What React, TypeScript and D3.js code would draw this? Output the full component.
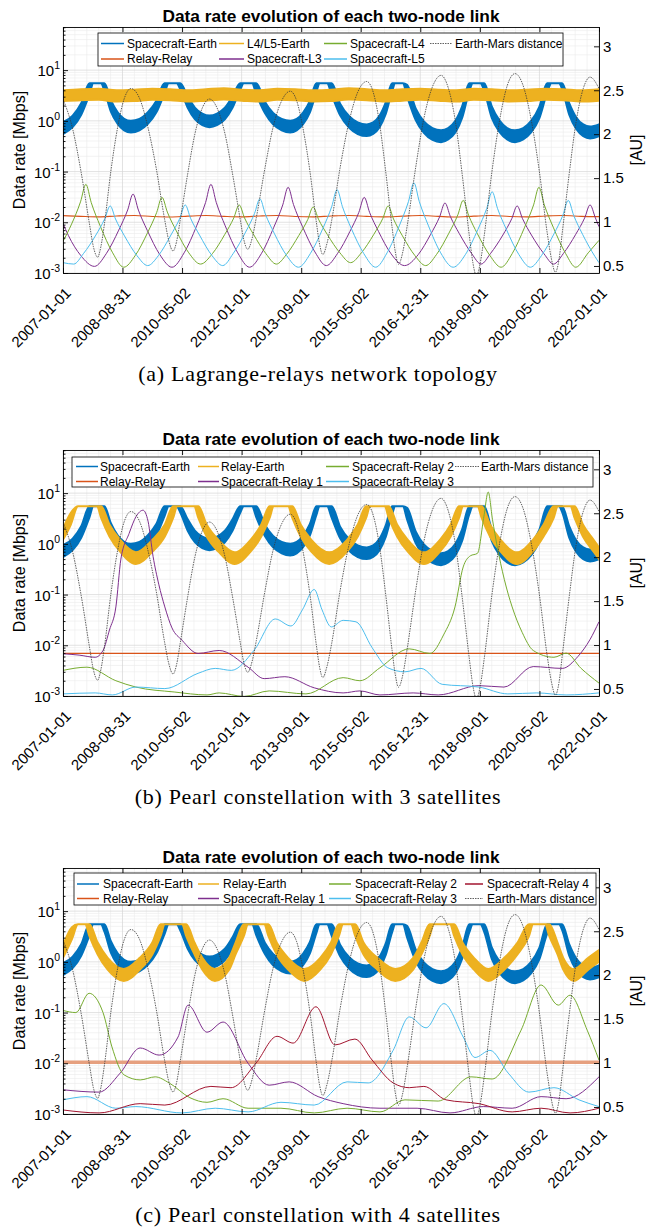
import React, { useEffect, useRef } from "react";
import * as d3 from "d3";

type P2 = [number, number];
type P3 = [number, number, number];

const tickDates = ["2007-01-01", "2008-08-31", "2010-05-02", "2012-01-01", "2013-09-01", "2015-05-02", "2016-12-31", "2018-09-01", "2020-05-02", "2022-01-01"];
const auTicks = [0.5, 1, 1.5, 2, 2.5, 3];
const rateTicks = [1e-3, 1e-2, 1e-1, 1, 10];

// Earth-Mars distance [year, AU] (same in all panels)
const earthMars: P2[] = [
  [2007.0, 2.4], [2007.27, 2.06], [2007.51, 1.56], [2007.74, 0.98], [2007.85, 0.72], [2007.97, 0.6],
  [2008.06, 0.72], [2008.16, 0.98], [2008.34, 1.58], [2008.53, 2.08], [2008.71, 2.4], [2008.9, 2.52],
  [2009.14, 2.41], [2009.37, 2.09], [2009.61, 1.61], [2009.84, 1.04], [2009.96, 0.79], [2010.08, 0.67],
  [2010.18, 0.78], [2010.28, 1.02], [2010.49, 1.55], [2010.69, 2.0], [2010.9, 2.3], [2011.1, 2.4],
  [2011.31, 2.3], [2011.53, 2.01], [2011.74, 1.56], [2011.96, 1.03], [2012.06, 0.8], [2012.17, 0.69],
  [2012.29, 0.81], [2012.41, 1.05], [2012.65, 1.61], [2012.88, 2.08], [2013.12, 2.38], [2013.36, 2.49],
  [2013.54, 2.38], [2013.72, 2.06], [2013.91, 1.58], [2014.09, 1.0], [2014.18, 0.75], [2014.27, 0.63],
  [2014.39, 0.76], [2014.52, 1.02], [2014.76, 1.63], [2015.01, 2.15], [2015.25, 2.48], [2015.5, 2.6],
  [2015.68, 2.48], [2015.86, 2.12], [2016.03, 1.58], [2016.21, 0.94], [2016.3, 0.66], [2016.39, 0.52],
  [2016.51, 0.66], [2016.63, 0.95], [2016.87, 1.62], [2017.1, 2.18], [2017.34, 2.54], [2017.58, 2.67],
  [2017.78, 2.53], [2017.98, 2.15], [2018.17, 1.55], [2018.37, 0.85], [2018.47, 0.54], [2018.57, 0.39],
  [2018.68, 0.54], [2018.79, 0.85], [2019.0, 1.56], [2019.22, 2.16], [2019.43, 2.55], [2019.65, 2.69],
  [2019.88, 2.55], [2020.1, 2.17], [2020.33, 1.58], [2020.55, 0.88], [2020.67, 0.58], [2020.78, 0.43],
  [2020.88, 0.57], [2020.97, 0.87], [2021.17, 1.56], [2021.36, 2.14], [2021.56, 2.52], [2021.75, 2.65],
  [2022.0, 2.52],
];

// Spacecraft-Earth band [year, low, high] Mbps (same in all panels)
const scEarth: P3[] = [
  [2007.0, 0.55, 0.94], [2007.27, 0.75, 1.27], [2007.51, 1.31, 2.22], [2007.74, 3.32, 5.5], [2007.85, 5.5, 5.5], [2007.97, 5.5, 5.5],
  [2008.06, 5.5, 5.5], [2008.16, 3.92, 5.5], [2008.34, 1.51, 2.55], [2008.53, 0.87, 1.47], [2008.71, 0.65, 1.1], [2008.9, 0.59, 1.0],
  [2009.14, 0.65, 1.09], [2009.37, 0.86, 1.46], [2009.61, 1.45, 2.45], [2009.84, 3.48, 5.5], [2009.96, 5.5, 5.5], [2010.08, 5.5, 5.5],
  [2010.18, 5.5, 5.5], [2010.28, 4.17, 5.5], [2010.49, 1.81, 3.05], [2010.69, 1.08, 1.83], [2010.9, 0.82, 1.39], [2011.1, 0.75, 1.27],
  [2011.31, 0.82, 1.39], [2011.53, 1.07, 1.81], [2011.74, 1.78, 3.01], [2011.96, 4.09, 5.5], [2012.06, 5.5, 5.5], [2012.17, 5.5, 5.5],
  [2012.29, 5.5, 5.5], [2012.41, 3.33, 5.5], [2012.65, 1.42, 2.39], [2012.88, 0.85, 1.43], [2013.12, 0.65, 1.09], [2013.36, 0.59, 1.0],
  [2013.54, 0.65, 1.09], [2013.72, 0.86, 1.46], [2013.91, 1.47, 2.48], [2014.09, 3.67, 5.5], [2014.18, 5.5, 5.5], [2014.27, 5.5, 5.5],
  [2014.39, 5.5, 5.5], [2014.52, 3.25, 5.5], [2014.76, 1.27, 2.15], [2015.01, 0.73, 1.23], [2015.25, 0.55, 0.93], [2015.5, 0.5, 0.85],
  [2015.68, 0.55, 0.93], [2015.86, 0.75, 1.27], [2016.03, 1.35, 2.29], [2016.21, 3.82, 5.5], [2016.3, 5.5, 5.5], [2016.39, 5.5, 5.5],
  [2016.51, 5.5, 5.5], [2016.63, 3.03, 5.12], [2016.87, 1.04, 1.76], [2017.1, 0.58, 0.97], [2017.34, 0.42, 0.72], [2017.58, 0.38, 0.65],
  [2017.78, 0.43, 0.72], [2017.98, 0.59, 1.0], [2018.17, 1.14, 1.93], [2018.37, 3.79, 5.5], [2018.47, 5.5, 5.5], [2018.57, 5.5, 5.5],
  [2018.68, 5.5, 5.5], [2018.79, 3.85, 5.5], [2019.0, 1.14, 1.93], [2019.22, 0.6, 1.01], [2019.43, 0.43, 0.72], [2019.65, 0.38, 0.65],
  [2019.88, 0.43, 0.72], [2020.1, 0.59, 1.0], [2020.33, 1.12, 1.89], [2020.55, 3.6, 5.5], [2020.67, 5.5, 5.5], [2020.78, 5.5, 5.5],
  [2020.88, 5.5, 5.5], [2020.97, 4.2, 5.5], [2021.17, 1.31, 2.21], [2021.36, 0.7, 1.18], [2021.56, 0.5, 0.85], [2021.75, 0.45, 0.77],
  [2022.0, 0.5, 0.85],
];

// (a) Lagrange relays
const l45Earth: P3[] = [
  [2007.0, 2.45, 4.0], [2007.5, 2.55, 4.2], [2008.0, 2.6, 4.3], [2008.5, 2.4, 4.0], [2009.0, 2.45, 4.1], [2009.5, 2.6, 4.3],
  [2010.0, 2.55, 4.2], [2010.5, 2.4, 4.0], [2011.0, 2.5, 4.2], [2011.5, 2.62, 4.4], [2012.0, 2.5, 4.1], [2012.5, 2.4, 4.0],
  [2013.0, 2.6, 4.3], [2013.5, 2.55, 4.2], [2014.0, 2.4, 4.0], [2014.5, 2.45, 4.1], [2015.0, 2.62, 4.4], [2015.5, 2.55, 4.2],
  [2016.0, 2.4, 4.0], [2016.5, 2.5, 4.2], [2017.0, 2.6, 4.3], [2017.5, 2.5, 4.1], [2018.0, 2.4, 4.0], [2018.5, 2.6, 4.3],
  [2019.0, 2.55, 4.2], [2019.5, 2.4, 4.0], [2020.0, 2.45, 4.1], [2020.5, 2.6, 4.3], [2021.0, 2.55, 4.2], [2021.5, 2.4, 4.0],
  [2022.0, 2.5, 4.2],
];
const relayRelayA: P2[] = [
  [2007.0, 0.0135], [2007.5, 0.0131], [2008.0, 0.0128], [2008.5, 0.0133], [2009.0, 0.0136], [2009.5, 0.013], [2010.0, 0.0127],
  [2010.5, 0.0132], [2011.0, 0.0136], [2011.5, 0.0131], [2012.0, 0.0128], [2012.5, 0.0133], [2013.0, 0.0136], [2013.5, 0.013],
  [2014.0, 0.0128], [2014.5, 0.0133], [2015.0, 0.0136], [2015.5, 0.0131], [2016.0, 0.0128], [2016.5, 0.0132], [2017.0, 0.0136],
  [2017.5, 0.0131], [2018.0, 0.0127], [2018.5, 0.0132], [2019.0, 0.0136], [2019.5, 0.013], [2020.0, 0.0128], [2020.5, 0.0133],
  [2021.0, 0.0136], [2021.5, 0.0131], [2022.0, 0.0129],
];
const scL3: P2[] = [
  [2007.0, 0.0095], [2007.15, 0.0055], [2007.5, 0.0022], [2007.88, 0.00135],
  [2008.21, 0.0024], [2008.56, 0.007], [2008.81, 0.0175], [2008.96, 0.036],
  [2009.11, 0.0174], [2009.36, 0.0069], [2009.71, 0.0023], [2010.05, 0.0013],
  [2010.39, 0.0025], [2010.74, 0.0085], [2010.99, 0.0245], [2011.14, 0.056],
  [2011.29, 0.0245], [2011.54, 0.0085], [2011.89, 0.0025], [2012.22, 0.0013],
  [2012.55, 0.0024], [2012.9, 0.008], [2013.15, 0.022], [2013.3, 0.049],
  [2013.45, 0.0224], [2013.7, 0.0083], [2014.05, 0.0026], [2014.37, 0.0014],
  [2014.68, 0.0024], [2015.03, 0.0066], [2015.28, 0.0157], [2015.43, 0.031],
  [2015.58, 0.0157], [2015.83, 0.0066], [2016.18, 0.0024], [2016.56, 0.0014],
  [2016.94, 0.0023], [2017.29, 0.0058], [2017.54, 0.0128], [2017.69, 0.024],
  [2017.84, 0.013], [2018.09, 0.006], [2018.44, 0.0024], [2018.7, 0.0015],
  [2018.96, 0.0024], [2019.31, 0.0056], [2019.56, 0.0118], [2019.71, 0.021],
  [2019.86, 0.0118], [2020.11, 0.0056], [2020.46, 0.0024], [2020.73, 0.0015],
  [2021.0, 0.0024], [2021.35, 0.0058], [2021.6, 0.0122], [2021.75, 0.022],
  [2021.9, 0.0122], [2022.0, 0.0082],
];
const scL4: P2[] = [
  [2007.0, 0.0042], [2007.24, 0.0092], [2007.49, 0.0253], [2007.64, 0.056],
  [2007.79, 0.0245], [2008.04, 0.0085], [2008.39, 0.0025], [2008.7, 0.0013],
  [2009.02, 0.0022], [2009.37, 0.0063], [2009.62, 0.0155], [2009.77, 0.031],
  [2009.92, 0.0159], [2010.17, 0.0068], [2010.52, 0.0025], [2010.85, 0.0015],
  [2011.18, 0.0024], [2011.53, 0.0058], [2011.78, 0.0122], [2011.93, 0.022],
  [2012.08, 0.0122], [2012.33, 0.0058], [2012.68, 0.0024], [2012.97, 0.0015],
  [2013.25, 0.0023], [2013.6, 0.0055], [2013.85, 0.0113], [2014.0, 0.02],
  [2014.15, 0.0115], [2014.4, 0.0057], [2014.75, 0.0025], [2015.05, 0.0016],
  [2015.35, 0.0025], [2015.7, 0.0058], [2015.95, 0.0119], [2016.1, 0.021],
  [2016.25, 0.0116], [2016.5, 0.0054], [2016.85, 0.0022], [2017.15, 0.0014],
  [2017.45, 0.0023], [2017.8, 0.0061], [2018.05, 0.014], [2018.2, 0.027],
  [2018.35, 0.0138], [2018.6, 0.0059], [2018.95, 0.0022], [2019.26, 0.0013],
  [2019.57, 0.0024], [2019.92, 0.008], [2020.17, 0.022], [2020.32, 0.049],
  [2020.47, 0.022], [2020.72, 0.008], [2021.07, 0.0024], [2021.35, 0.0013],
  [2021.7, 0.0025], [2022.0, 0.0044],
];
const scL5: P2[] = [
  [2007.0, 0.0016], [2007.3, 0.0015], [2007.57, 0.0024], [2007.92, 0.0056], [2008.17, 0.0118], [2008.32, 0.021],
  [2008.47, 0.0116], [2008.72, 0.0054], [2009.07, 0.0022], [2009.37, 0.0014],
  [2009.67, 0.0022], [2010.02, 0.0056], [2010.27, 0.012], [2010.42, 0.022],
  [2010.57, 0.012], [2010.82, 0.0056], [2011.17, 0.0022], [2011.47, 0.0014],
  [2011.76, 0.0024], [2012.11, 0.0064], [2012.36, 0.0149], [2012.51, 0.029],
  [2012.66, 0.0147], [2012.91, 0.0061], [2013.26, 0.0022], [2013.59, 0.0013],
  [2013.92, 0.0024], [2014.27, 0.0075], [2014.52, 0.0203], [2014.67, 0.044],
  [2014.82, 0.0203], [2015.07, 0.0075], [2015.42, 0.0024], [2015.75, 0.0013],
  [2016.07, 0.0025], [2016.42, 0.0088], [2016.67, 0.0258], [2016.82, 0.06],
  [2016.97, 0.0258], [2017.22, 0.0088], [2017.57, 0.0025], [2017.92, 0.0013],
  [2018.26, 0.0023], [2018.61, 0.0072], [2018.86, 0.0188], [2019.01, 0.04],
  [2019.16, 0.0188], [2019.41, 0.0072], [2019.76, 0.0023], [2020.08, 0.0013],
  [2020.39, 0.0022], [2020.74, 0.0059], [2020.99, 0.0138], [2021.14, 0.027],
  [2021.29, 0.0138], [2021.54, 0.0058], [2021.89, 0.0021], [2022.0, 0.0016],
];

// (b) Pearl constellation, 3 satellites
const relayEarthB: P3[] = [
  [2007.0, 1.2, 2.0], [2007.22, 2.4, 4.1], [2007.42, 5.5, 5.5], [2007.95, 5.5, 5.5], [2008.07, 3.2, 5.5], [2008.3, 1.4, 2.4],
  [2008.6, 0.7, 1.2], [2009.04, 0.4, 0.68], [2009.5, 0.7, 1.2], [2009.85, 1.4, 2.4], [2010.08, 3.2, 5.5], [2010.2, 5.5, 5.5],
  [2010.67, 5.5, 5.5], [2010.79, 3.2, 5.5], [2011.02, 1.4, 2.4], [2011.35, 0.7, 1.2], [2011.8, 0.4, 0.68], [2012.25, 0.7, 1.2],
  [2012.55, 1.4, 2.4], [2012.78, 3.2, 5.5], [2012.9, 5.5, 5.5], [2013.3, 5.5, 5.5], [2013.42, 3.2, 5.5], [2013.65, 1.4, 2.4],
  [2013.95, 0.7, 1.2], [2014.45, 0.4, 0.68], [2014.95, 0.7, 1.2], [2015.25, 1.4, 2.4], [2015.48, 3.2, 5.5], [2015.6, 5.5, 5.5],
  [2016.0, 5.5, 5.5], [2016.12, 3.2, 5.5], [2016.35, 1.4, 2.4], [2016.65, 0.7, 1.2], [2017.1, 0.4, 0.68], [2017.55, 0.7, 1.2],
  [2017.85, 1.4, 2.4], [2018.08, 3.2, 5.5], [2018.2, 5.5, 5.5], [2018.6, 5.5, 5.5], [2018.72, 3.2, 5.5], [2018.95, 1.4, 2.4],
  [2019.25, 0.7, 1.2], [2019.7, 0.4, 0.68], [2020.15, 0.7, 1.2], [2020.45, 1.4, 2.4], [2020.73, 3.2, 5.5], [2020.85, 5.5, 5.5],
  [2021.2, 5.5, 5.5], [2021.32, 3.2, 5.5], [2021.55, 1.4, 2.4], [2021.85, 0.7, 1.2], [2022.0, 0.5, 0.85],
];
const relayRelayB: P2[] = [[2007.0, 0.0069], [2014.5, 0.0069], [2022.0, 0.0069]];
const scR1B: P2[] = [
  [2007.0, 0.0068], [2007.45, 0.0064], [2007.9, 0.0058], [2008.12, 0.0079], [2008.3, 0.02], [2008.48, 0.057], [2008.62, 0.5],
  [2008.85, 1.6], [2009.05, 3.5], [2009.24, 4.6], [2009.38, 2.8], [2009.52, 0.57], [2009.68, 0.16], [2009.85, 0.057],
  [2010.05, 0.022], [2010.33, 0.0126], [2010.78, 0.0069], [2011.37, 0.0079], [2012.18, 0.0037], [2012.63, 0.0022],
  [2013.21, 0.0024], [2014.03, 0.00145], [2014.84, 0.00115], [2015.31, 0.00126], [2015.87, 0.00105], [2016.8, 0.00115],
  [2017.5, 0.00105], [2018.64, 0.0016], [2019.34, 0.0015], [2020.16, 0.0038], [2020.97, 0.0035], [2021.41, 0.006],
  [2021.75, 0.013], [2022.0, 0.029],
];
const scR2B: P2[] = [
  [2007.0, 0.0032], [2007.67, 0.0037], [2008.48, 0.002], [2009.04, 0.0015], [2010.11, 0.0012], [2011.03, 0.00105],
  [2011.37, 0.00115], [2012.07, 0.00098], [2012.77, 0.00126], [2013.8, 0.0011], [2014.84, 0.0023], [2015.31, 0.002],
  [2015.87, 0.0036], [2016.69, 0.0085], [2017.27, 0.0069], [2017.65, 0.016], [2017.97, 0.057], [2018.2, 0.35],
  [2018.4, 0.58], [2018.6, 0.65], [2018.78, 3.5], [2018.9, 10.5], [2019.02, 3.0], [2019.15, 0.9], [2019.35, 0.2],
  [2019.57, 0.057], [2019.85, 0.018], [2020.16, 0.0079], [2020.74, 0.0058], [2021.08, 0.007], [2021.5, 0.0035],
  [2022.0, 0.0018],
];
const scR3B: P2[] = [
  [2007.0, 0.0011], [2007.9, 0.00115], [2008.38, 0.00105], [2009.04, 0.0015], [2009.85, 0.0014], [2010.78, 0.0028],
  [2011.26, 0.0035], [2011.71, 0.0032], [2012.35, 0.008], [2012.94, 0.033], [2013.38, 0.024], [2013.7, 0.05],
  [2014.03, 0.126], [2014.25, 0.05], [2014.51, 0.023], [2014.84, 0.031], [2015.2, 0.029], [2015.65, 0.009],
  [2016.09, 0.0036], [2016.57, 0.003], [2017.02, 0.0035], [2017.61, 0.0017], [2018.64, 0.0015], [2019.45, 0.0011],
  [2020.26, 0.00115], [2021.08, 0.00105], [2022.0, 0.00115],
];

// (c) Pearl constellation, 4 satellites
const relayEarthC: P3[] = [
  [2007.0, 1.2, 2.1], [2007.25, 2.8, 4.8], [2007.42, 5.5, 5.5], [2007.62, 5.5, 5.5], [2007.74, 3.2, 5.5], [2007.97, 1.4, 2.4],
  [2008.25, 0.7, 1.2], [2008.7, 0.42, 0.72], [2009.15, 0.7, 1.2], [2009.5, 1.4, 2.4], [2009.73, 3.2, 5.5], [2009.85, 5.5, 5.5],
  [2010.33, 5.5, 5.5], [2010.45, 3.2, 5.5], [2010.68, 1.4, 2.4], [2010.9, 0.7, 1.2], [2011.25, 0.42, 0.72], [2011.65, 0.7, 1.2],
  [2011.83, 1.4, 2.4], [2012.06, 3.2, 5.5], [2012.18, 5.5, 5.5], [2012.63, 5.5, 5.5], [2012.75, 3.2, 5.5], [2012.98, 1.4, 2.4],
  [2013.3, 0.7, 1.2], [2013.75, 0.42, 0.72], [2014.2, 0.7, 1.2], [2014.5, 1.4, 2.4], [2014.72, 3.2, 5.5], [2014.84, 5.5, 5.5],
  [2015.06, 5.5, 5.5], [2015.18, 3.2, 5.5], [2015.41, 1.4, 2.4], [2015.8, 0.7, 1.2], [2016.3, 0.42, 0.72], [2016.8, 0.7, 1.2],
  [2017.03, 1.4, 2.4], [2017.26, 3.2, 5.5], [2017.38, 5.5, 5.5], [2017.83, 5.5, 5.5], [2017.95, 3.2, 5.5], [2018.18, 1.4, 2.4],
  [2018.5, 0.7, 1.2], [2018.9, 0.42, 0.72], [2019.35, 0.7, 1.2], [2019.72, 1.4, 2.4], [2020.04, 3.2, 5.5], [2020.16, 5.5, 5.5],
  [2020.49, 5.5, 5.5], [2020.61, 3.2, 5.5], [2020.84, 1.4, 2.4], [2021.0, 0.7, 1.2], [2021.3, 0.42, 0.72], [2021.7, 0.7, 1.2],
  [2022.0, 1.0, 1.7],
];
const relayRelayC: P2[] = [[2007.0, 0.0105], [2014.5, 0.0105], [2022.0, 0.0105]];
const scR1C: P2[] = [
  [2007.0, 0.003], [2008.01, 0.0027], [2008.6, 0.0064], [2009.16, 0.02], [2009.69, 0.0145], [2010.22, 0.033],
  [2010.5, 0.14], [2011.03, 0.041], [2011.48, 0.065], [2012.18, 0.01], [2012.77, 0.0037], [2013.33, 0.0043],
  [2014.14, 0.0022], [2014.84, 0.0016], [2015.87, 0.0013], [2016.91, 0.0013], [2017.83, 0.00105], [2018.76, 0.0014],
  [2019.57, 0.0013], [2020.38, 0.0022], [2021.08, 0.002], [2022.0, 0.0054],
];
const scR2C: P2[] = [
  [2007.0, 0.11], [2007.36, 0.1], [2007.73, 0.24], [2008.12, 0.1], [2008.37, 0.021], [2008.71, 0.0059], [2009.16, 0.0047],
  [2009.58, 0.0054], [2009.97, 0.0041], [2010.55, 0.0021], [2011.03, 0.0017], [2011.48, 0.002], [2012.18, 0.0013],
  [2013.1, 0.0013], [2014.03, 0.00105], [2014.95, 0.0013], [2015.87, 0.0011], [2016.57, 0.0019], [2017.5, 0.0018],
  [2018.42, 0.0054], [2019.01, 0.0049], [2019.82, 0.045], [2020.38, 0.35], [2020.86, 0.14], [2021.19, 0.22],
  [2021.67, 0.045], [2022.0, 0.0116],
];
const scR3C: P2[] = [
  [2007.0, 0.0019], [2007.67, 0.0022], [2008.48, 0.0013], [2009.04, 0.0014], [2010.33, 0.00105], [2011.26, 0.0013],
  [2012.18, 0.0011], [2013.1, 0.0017], [2014.03, 0.0015], [2014.95, 0.0043], [2015.54, 0.0041], [2016.24, 0.018],
  [2016.69, 0.082], [2017.16, 0.05], [2017.66, 0.15], [2018.2, 0.033], [2018.53, 0.013], [2018.95, 0.018],
  [2019.46, 0.0064], [2020.04, 0.0027], [2020.74, 0.0033], [2021.44, 0.0019], [2022.0, 0.0014],
];
const scR4C: P2[] = [
  [2007.0, 0.0012], [2008.01, 0.00105], [2009.16, 0.0016], [2009.85, 0.0015], [2011.14, 0.0035], [2011.7, 0.0033],
  [2012.4, 0.01], [2012.99, 0.034], [2013.44, 0.025], [2014.08, 0.13], [2014.61, 0.023], [2015.17, 0.03],
  [2015.65, 0.0116], [2016.24, 0.0041], [2016.69, 0.0033], [2017.1, 0.0035], [2017.72, 0.0019], [2018.64, 0.0016],
  [2019.57, 0.0011], [2020.38, 0.0013], [2021.19, 0.00105], [2022.0, 0.0013],
];

const C = {
  blue: "#0072BD", orange: "#D95319", yellow: "#EDB120", purple: "#7E2F8E",
  green: "#77AC30", cyan: "#4DBEEE", red: "#A2142F", gray: "#3a3a3a",
};

type Leg = { label: string; color: string; dotted?: boolean };
type Panel = {
  top: number;
  caption: string;
  bands: { data: P3[]; color: string }[];
  lines: { data: P2[]; color: string; width: number }[];
  legend: { box: number[]; rows: number[]; cols: number[][]; items: (Leg | null)[][] };
};

const panels: Panel[] = [
  {
    top: 27,
    caption: "(a) Lagrange-relays network topology",
    bands: [{ data: scEarth, color: C.blue }, { data: l45Earth, color: C.yellow }],
    lines: [{ data: relayRelayA, color: C.orange, width: 1.1 }],
    legend: {
      box: [98, 33, 563, 66], rows: [43.5, 59],
      cols: [[101, 124, 127], [219, 244, 247], [324, 347, 350], [430, 452, 455]],
      items: [
        [{ label: "Spacecraft-Earth", color: C.blue }, { label: "L4/L5-Earth", color: C.yellow }, { label: "Spacecraft-L4", color: C.green }, { label: "Earth-Mars distance", color: C.gray, dotted: true }],
        [{ label: "Relay-Relay", color: C.orange }, { label: "Spacecraft-L3", color: C.purple }, { label: "Spacecraft-L5", color: C.cyan }, null],
      ],
    },
  },
  {
    top: 450,
    caption: "(b) Pearl constellation with 3 satellites",
    bands: [{ data: scEarth, color: C.blue }, { data: relayEarthB, color: C.yellow }],
    lines: [{ data: relayRelayB, color: C.orange, width: 1.2 }],
    legend: {
      box: [72, 457, 593, 487], rows: [466.5, 481.5],
      cols: [[76, 98, 100], [198, 219, 221], [326, 349, 352], [455, 479, 481]],
      items: [
        [{ label: "Spacecraft-Earth", color: C.blue }, { label: "Relay-Earth", color: C.yellow }, { label: "Spacecraft-Relay 2", color: C.green }, { label: "Earth-Mars distance", color: C.gray, dotted: true }],
        [{ label: "Relay-Relay", color: C.orange }, { label: "Spacecraft-Relay 1", color: C.purple }, { label: "Spacecraft-Relay 3", color: C.cyan }, null],
      ],
    },
  },
  {
    top: 868,
    caption: "(c) Pearl constellation with 4 satellites",
    bands: [{ data: scEarth, color: C.blue }, { data: relayEarthC, color: C.yellow }],
    lines: [{ data: relayRelayC, color: "#E6A07F", width: 3.5 }],
    legend: {
      box: [74, 873, 596, 905], rows: [884, 898.5],
      cols: [[77, 99, 103], [198, 219, 223], [329, 351, 355], [465, 483, 487]],
      items: [
        [{ label: "Spacecraft-Earth", color: C.blue }, { label: "Relay-Earth", color: C.yellow }, { label: "Spacecraft-Relay 2", color: C.green }, { label: "Spacecraft-Relay 4", color: C.red }],
        [{ label: "Relay-Relay", color: C.orange }, { label: "Spacecraft-Relay 1", color: C.purple }, { label: "Spacecraft-Relay 3", color: C.cyan }, { label: "Earth-Mars distance", color: C.gray, dotted: true }],
      ],
    },
  },
];
const thin: { data: P2[]; color: string }[][] = [
  [{ data: scL3, color: C.purple }, { data: scL4, color: C.green }, { data: scL5, color: C.cyan }],
  [{ data: scR1B, color: C.purple }, { data: scR2B, color: C.green }, { data: scR3B, color: C.cyan }],
  [{ data: scR1C, color: C.purple }, { data: scR2C, color: C.green }, { data: scR3C, color: C.cyan }, { data: scR4C, color: C.red }],
];

const X0 = 63, X1 = 599, PH = 246;
const FONT = "'Liberation Sans', Arial, Helvetica, sans-serif";
const t0 = Date.UTC(2007, 0, 1);
const toDate = (yr: number) => new Date(t0 + (yr - 2007) * 365.25 * 864e5);

export default function App() {
  const ref = useRef<SVGSVGElement>(null);

  useEffect(() => {
    if (!ref.current) return;
    const svg = d3.select(ref.current);
    svg.selectAll("*").remove();
    svg.append("rect").attr("width", 647).attr("height", 1228).attr("fill", "#fff");

    const parse = d3.utcParse("%Y-%m-%d");
    const ticks = tickDates.map((s) => parse(s) as Date);
    const x = d3.scaleUtc().domain([ticks[0], ticks[ticks.length - 1]]).range([X0, X1]);

    const minorX: Date[] = [];
    for (let i = 0; i < ticks.length - 1; i++) {
      const a = ticks[i].getTime(), b = ticks[i + 1].getTime();
      for (let k = 1; k < 5; k++) minorX.push(new Date(a + ((b - a) * k) / 5));
    }
    const minorY: number[] = [];
    for (let e = -3; e <= 1; e++) for (let m = 2; m <= 9; m++) minorY.push(m * Math.pow(10, e));

    panels.forEach((p, i) => {
      const top = p.top, bottom = top + PH;
      const y = d3.scaleLog().domain([1e-3, Math.pow(10, 1.85)]).range([bottom, top]);
      const yR = d3.scaleLinear().domain([0.42, 3.22]).range([bottom, top]);
      const g = svg.append("g").attr("font-family", FONT);

      const clipId = `plotclip${i}`;
      g.append("clipPath").attr("id", clipId).append("rect")
        .attr("x", X0).attr("y", top).attr("width", X1 - X0).attr("height", PH);

      // grid
      const grid = g.append("g");
      grid.selectAll("line.mx").data(minorX).join("line")
        .attr("x1", (d) => x(d)).attr("x2", (d) => x(d)).attr("y1", top).attr("y2", bottom)
        .attr("stroke", "#ebebeb").attr("stroke-width", 0.6);
      grid.selectAll("line.my").data(minorY.filter((v) => y(v) > top)).join("line")
        .attr("x1", X0).attr("x2", X1).attr("y1", (d) => y(d)).attr("y2", (d) => y(d))
        .attr("stroke", "#ebebeb").attr("stroke-width", 0.6);
      grid.selectAll("line.Mx").data(ticks).join("line")
        .attr("x1", (d) => x(d)).attr("x2", (d) => x(d)).attr("y1", top).attr("y2", bottom)
        .attr("stroke", "#d6d6d6").attr("stroke-width", 0.7);
      grid.selectAll("line.My").data(rateTicks).join("line")
        .attr("x1", X0).attr("x2", X1).attr("y1", (d) => y(d)).attr("y2", (d) => y(d))
        .attr("stroke", "#d6d6d6").attr("stroke-width", 0.7);

      const plot = g.append("g").attr("clip-path", `url(#${clipId})`);
      const area = d3.area<P3>().x((d) => x(toDate(d[0]))).y0((d) => y(d[1])).y1((d) => y(d[2])).curve(d3.curveMonotoneX);
      const line = d3.line<P2>().x((d) => x(toDate(d[0]))).y((d) => y(d[1])).curve(d3.curveMonotoneX);

      // plot order: Spacecraft-Earth, Relay-Relay, Relay-Earth, spacecraft-relay links, distance
      plot.append("path").datum(p.bands[0].data).attr("d", area)
        .attr("fill", p.bands[0].color).attr("stroke", p.bands[0].color).attr("stroke-width", 2);
      p.lines.forEach((l) => {
        plot.append("path").datum(l.data).attr("d", line).attr("fill", "none")
          .attr("stroke", l.color).attr("stroke-width", l.width);
      });
      plot.append("path").datum(p.bands[1].data).attr("d", area)
        .attr("fill", p.bands[1].color).attr("stroke", p.bands[1].color).attr("stroke-width", 2);
      thin[i].forEach((l) => {
        plot.append("path").datum(l.data).attr("d", line).attr("fill", "none")
          .attr("stroke", l.color).attr("stroke-width", 1);
      });
      const lineR = d3.line<P2>().x((d) => x(toDate(d[0]))).y((d) => yR(d[1])).curve(d3.curveMonotoneX);
      plot.append("path").datum(earthMars).attr("d", lineR).attr("fill", "none")
        .attr("stroke", C.gray).attr("stroke-width", 0.8).attr("stroke-dasharray", "1.5 1");

      // axes
      const axes = g.append("g").attr("stroke-width", 0.9);
      const style = (s: any) => { s.select(".domain").attr("stroke", "#000"); s.selectAll(".tick line").attr("stroke", "#000"); };
      axes.append("g").attr("transform", `translate(0,${bottom})`)
        .call(d3.axisBottom(x).tickValues(ticks).tickSize(-5).tickSizeOuter(0).tickFormat(() => "")).call(style);
      axes.append("g").attr("transform", `translate(0,${top})`)
        .call(d3.axisTop(x).tickValues(ticks).tickSize(-5).tickSizeOuter(0).tickFormat(() => "")).call(style);
      axes.append("g").attr("transform", `translate(${X0},0)`)
        .call(d3.axisLeft(y).tickValues(rateTicks).tickSize(-5).tickSizeOuter(0).tickFormat(() => "")).call(style);
      axes.append("g").attr("transform", `translate(${X0},0)`)
        .call(d3.axisLeft(y).tickValues(minorY.filter((v) => y(v) > top)).tickSize(-2.5).tickSizeOuter(0).tickFormat(() => ""))
        .call((s: any) => { s.select(".domain").remove(); s.selectAll(".tick line").attr("stroke", "#000"); });
      const right = axes.append("g").attr("transform", `translate(${X1},0)`)
        .call(d3.axisRight(yR).tickValues(auTicks).tickSize(-5).tickSizeOuter(0).tickPadding(4).tickFormat(d3.format("~g"))).call(style);
      right.selectAll("text").attr("font-size", 15).attr("font-family", FONT).attr("fill", "#000");

      // left tick labels 10^n
      rateTicks.forEach((v) => {
        const t = g.append("text").attr("x", X0 - 3).attr("y", y(v) + 6).attr("text-anchor", "end")
          .attr("font-size", 15).attr("fill", "#000");
        t.append("tspan").text("10");
        t.append("tspan").attr("dy", -7).attr("font-size", 10.5).text(String(Math.round(Math.log10(v))));
      });

      // bottom tick labels
      ticks.forEach((d, k) => {
        g.append("text").attr("transform", `translate(${x(d) + 9},${bottom + 21}) rotate(-45)`)
          .attr("text-anchor", "end").attr("font-size", 15).attr("fill", "#000").text(tickDates[k]);
      });

      // axis labels, title
      g.append("text").attr("transform", `translate(25,${top + PH / 2}) rotate(-90)`).attr("text-anchor", "middle")
        .attr("font-size", 16).attr("fill", "#000").text("Data rate [Mbps]");
      g.append("text").attr("transform", `translate(642,${top + PH / 2}) rotate(-90)`).attr("text-anchor", "middle")
        .attr("font-size", 16).attr("fill", "#000").text("[AU]");
      g.append("text").attr("x", (X0 + X1) / 2).attr("y", top - 5).attr("text-anchor", "middle")
        .attr("font-size", 17.3).attr("font-weight", "bold").attr("fill", "#000").text("Data rate evolution of each two-node link");

      // legend
      const L = p.legend;
      const lg = g.append("g");
      lg.append("rect").attr("x", L.box[0]).attr("y", L.box[1]).attr("width", L.box[2] - L.box[0]).attr("height", L.box[3] - L.box[1])
        .attr("fill", "#fff").attr("stroke", "#000").attr("stroke-width", 0.8);
      L.items.forEach((row, r) => row.forEach((it, c) => {
        if (!it) return;
        const [lx0, lx1, tx] = L.cols[c];
        const yy = L.rows[r];
        lg.append("line").attr("x1", lx0).attr("x2", lx1).attr("y1", yy).attr("y2", yy)
          .attr("stroke", it.color).attr("stroke-width", it.dotted ? 0.8 : 1.5)
          .attr("stroke-dasharray", it.dotted ? "1.5 1" : null);
        lg.append("text").attr("x", tx).attr("y", yy + 4).attr("font-size", 12).attr("fill", "#000").text(it.label);
      }));

      // caption
      svg.append("text").attr("x", 318).attr("y", bottom + 108).attr("text-anchor", "middle")
        .attr("font-family", "'Liberation Serif', 'DejaVu Serif', serif").attr("font-size", 22)
        .attr("letter-spacing", 0.7).attr("fill", "#000").text(p.caption);
    });
  }, []);

  return <svg ref={ref} width={647} height={1228} style={{ position: "absolute", left: 0, top: 0 }} />;
}
